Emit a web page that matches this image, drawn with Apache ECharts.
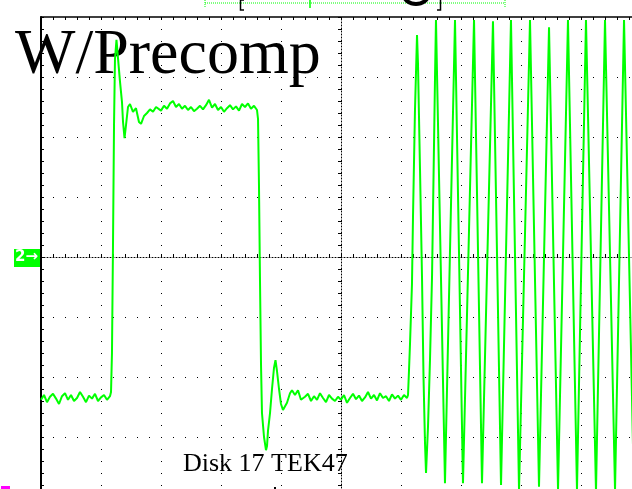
<!DOCTYPE html>
<html>
<head>
<meta charset="utf-8">
<script src="https://cdn.jsdelivr.net/npm/echarts@6/dist/echarts.min.js"></script>
<style>
html,body{margin:0;padding:0;background:#fff;}
#chart{width:632px;height:489px;}
</style>
</head>
<body>
<div id="chart"></div>
<script>
// Time in divisions (centre of screen = 0), voltage in divisions (centre line = 0)
const baseline1Time = [-5.00,-4.95,-4.90,-4.85,-4.80,-4.75,-4.70,-4.65,-4.60,-4.55,-4.50,-4.45,-4.40,-4.35,-4.30,-4.25,-4.20,-4.15,-4.10,-4.05,-4.00,-3.95,-3.90,-3.85];
const baseline1Volt = [-2.38,-2.30,-2.42,-2.33,-2.28,-2.36,-2.45,-2.32,-2.27,-2.38,-2.30,-2.40,-2.35,-2.25,-2.33,-2.42,-2.31,-2.36,-2.28,-2.40,-2.34,-2.30,-2.38,-2.32];

const riseTime = [-3.833,-3.817,-3.800,-3.783,-3.767,-3.742,-3.717,-3.683,-3.650,-3.633,-3.608,-3.583,-3.550,-3.517,-3.467,-3.417,-3.367,-3.333,-3.283,-3.233,-3.183,-3.133,-3.083];
const riseVolt = [-2.25,-1.60,0.20,2.20,3.30,3.62,3.32,2.92,2.58,2.25,1.98,2.20,2.50,2.55,2.42,2.48,2.25,2.22,2.35,2.40,2.46,2.42,2.50];

const plateauTime = [-3.05,-3.00,-2.95,-2.90,-2.85,-2.80,-2.75,-2.70,-2.65,-2.60,-2.55,-2.50,-2.45,-2.40,-2.35,-2.30,-2.25,-2.20,-2.15,-2.10,-2.05,-2.00,-1.95,-1.90,-1.85,-1.80,-1.75,-1.70,-1.65,-1.60,-1.55,-1.50,-1.45];
const plateauVolt = [2.48,2.44,2.52,2.47,2.56,2.60,2.50,2.55,2.47,2.52,2.45,2.50,2.43,2.47,2.52,2.46,2.53,2.62,2.49,2.55,2.45,2.50,2.42,2.48,2.53,2.46,2.51,2.44,2.55,2.50,2.56,2.47,2.52];

const fallTime = [-1.400,-1.383,-1.367,-1.350,-1.333,-1.317,-1.283,-1.250,-1.233,-1.217,-1.183,-1.150,-1.117,-1.092,-1.067,-1.033,-1.000,-0.967,-0.900,-0.850,-0.817,-0.767,-0.717,-0.667];
const fallVolt = [2.45,2.30,1.20,-0.40,-1.80,-2.60,-3.00,-3.22,-3.15,-2.90,-2.60,-2.20,-1.85,-1.72,-1.90,-2.20,-2.45,-2.55,-2.43,-2.27,-2.22,-2.30,-2.22,-2.38];

const baseline2Time = [-0.60,-0.55,-0.50,-0.45,-0.40,-0.35,-0.30,-0.25,-0.20,-0.15,-0.10,-0.05,0.00,0.05,0.10,0.15,0.20,0.25,0.30,0.35,0.40,0.45,0.50,0.55,0.60,0.65,0.70,0.75,0.80,0.85,0.90,0.95,1.00,1.05,1.10];
const baseline2Volt = [-2.33,-2.28,-2.40,-2.32,-2.38,-2.27,-2.35,-2.42,-2.30,-2.36,-2.40,-2.33,-2.38,-2.30,-2.43,-2.35,-2.28,-2.37,-2.31,-2.40,-2.34,-2.25,-2.36,-2.30,-2.39,-2.27,-2.35,-2.32,-2.40,-2.29,-2.36,-2.31,-2.38,-2.30,-2.35];

const burstTime = [1.117,1.133,1.150,1.183,1.200,1.233,1.267,1.283,1.317,1.350,1.375,1.400,1.417,1.450,1.483,1.517,1.542,1.567,1.583,1.733,1.900,2.033,2.217,2.350,2.533,2.667,2.833,2.967,3.150,3.300,3.467,3.617,3.783,3.933,4.083,4.250,4.400,4.567,4.717,4.883];
const burstVolt = [-2.30,-1.90,-1.45,-0.45,0.67,2.45,3.70,3.23,1.45,-0.33,-2.00,-3.10,-3.60,-2.83,-1.72,-0.33,1.33,3.00,3.95,-3.77,3.95,-3.77,3.95,-3.77,3.93,-3.80,3.95,-3.88,3.95,-3.83,3.83,-3.88,3.95,-3.88,3.95,-3.90,3.95,-3.88,3.95,-3.90];

const titleText = 'W/Precomp';
const footText = 'Disk 17 TEK47';
const channelLabel = '2\u2192';

const times = [].concat(baseline1Time, riseTime, plateauTime, fallTime, baseline2Time, burstTime);
const volts = [].concat(baseline1Volt, riseVolt, plateauVolt, fallVolt, baseline2Volt, burstVolt);
const traceData = times.map((t, i) => [t, volts[i]]);

const chart = echarts.init(document.getElementById('chart'), null, {renderer: 'canvas'});
const black = '#000';
const green = '#00ff00';

const hiddenLabel = {show: false};
const option = {
  backgroundColor: '#fff',
  animation: false,
  grid: {left: 41, top: 17, width: 600, height: 480, containLabel: false, outerBoundsMode: 'none'},
  xAxis: [
    { // top border of graticule
      type: 'value', min: -5, max: 5, interval: 1, position: 'top',
      axisLine: {show: true, onZero: false, lineStyle: {color: black, width: 1.5}},
      axisTick: {show: true, inside: true, length: 3, lineStyle: {color: black}},
      minorTick: {show: true, splitNumber: 5, length: 3, lineStyle: {color: black}},
      axisLabel: hiddenLabel,
      splitLine: {show: true, lineStyle: {color: black, width: 1, type: [1, 11]}},
      minorSplitLine: {show: false}
    },
    { // centre horizontal line, ticks up
      type: 'value', min: -5, max: 5, interval: 1, position: 'bottom',
      axisLine: {show: true, onZero: true, onZeroAxisIndex: 0, lineStyle: {color: black, width: 1, type: [1, 2]}},
      axisTick: {show: true, inside: true, length: 3, lineStyle: {color: black}},
      minorTick: {show: true, splitNumber: 5, length: 3, lineStyle: {color: black}},
      axisLabel: hiddenLabel, splitLine: {show: false}
    },
    { // centre horizontal line, ticks down
      type: 'value', min: -5, max: 5, interval: 1, position: 'bottom',
      axisLine: {show: false, onZero: true, onZeroAxisIndex: 0},
      axisTick: {show: true, inside: true, length: 3, lineStyle: {color: black}},
      minorTick: {show: true, splitNumber: 5, length: 3, lineStyle: {color: black}},
      axisLabel: hiddenLabel, splitLine: {show: false}
    }
  ],
  yAxis: [
    { // left border of graticule
      type: 'value', min: -4, max: 4, interval: 1, position: 'left',
      axisLine: {show: true, onZero: false, lineStyle: {color: black, width: 2}},
      axisTick: {show: true, inside: true, length: 3, lineStyle: {color: black}},
      minorTick: {show: true, splitNumber: 5, length: 3, lineStyle: {color: black}},
      axisLabel: hiddenLabel,
      splitLine: {show: true, lineStyle: {color: black, width: 1, type: [1, 11]}},
      minorSplitLine: {show: false}
    },
    { // centre vertical line, ticks left
      type: 'value', min: -4, max: 4, interval: 1, position: 'right',
      axisLine: {show: true, onZero: true, onZeroAxisIndex: 0, lineStyle: {color: black, width: 1, type: [1, 2]}},
      axisTick: {show: true, inside: true, length: 3, lineStyle: {color: black}},
      minorTick: {show: true, splitNumber: 5, length: 3, lineStyle: {color: black}},
      axisLabel: hiddenLabel, splitLine: {show: false}
    },
    { // centre vertical line, ticks right
      type: 'value', min: -4, max: 4, interval: 1, position: 'left',
      axisLine: {show: false, onZero: true, onZeroAxisIndex: 0},
      axisTick: {show: true, inside: false, length: 3, lineStyle: {color: black}},
      minorTick: {show: true, splitNumber: 5, length: 3, lineStyle: {color: black}},
      axisLabel: hiddenLabel, splitLine: {show: false}
    }
  ],
  series: [{
    type: 'line',
    xAxisIndex: 0, yAxisIndex: 0,
    data: traceData,
    showSymbol: false,
    symbol: 'none',
    clip: true,
    z: 5,
    lineStyle: {color: green, width: 2},
    silent: true
  }],
  graphic: [
    {type: 'text', x: 15, y: 24, z: 1, style: {text: titleText, font: "64px 'Liberation Serif', 'Times New Roman', serif", fill: black, verticalAlign: 'top'}},
    {type: 'text', x: 183, y: 451, z: 1, style: {text: footText, font: "26px 'Liberation Serif', 'Times New Roman', serif", fill: black, verticalAlign: 'top'}},
    {type: 'rect', z: 20, shape: {x: 14, y: 249, width: 26, height: 18}, style: {fill: green}},
    {type: 'text', x: 15, y: 250, z: 21, style: {text: channelLabel, font: "bold 15px 'DejaVu Sans', sans-serif", fill: '#fff', verticalAlign: 'top'}},
    // record view indicator at top
    {type: 'line', z: 1, shape: {x1: 205, y1: 3, x2: 505, y2: 3}, style: {stroke: green, lineWidth: 1, lineDash: [1, 1]}},
    {type: 'line', z: 1, shape: {x1: 205, y1: 0, x2: 205, y2: 8}, style: {stroke: green, lineWidth: 1, lineDash: [1, 1]}},
    {type: 'line', z: 1, shape: {x1: 505, y1: 0, x2: 505, y2: 8}, style: {stroke: green, lineWidth: 1, lineDash: [1, 1]}},
    {type: 'line', z: 1, shape: {x1: 310, y1: 0, x2: 310, y2: 8}, style: {stroke: green, lineWidth: 1.5}},
    {type: 'polyline', z: 2, shape: {points: [[244, 0], [240.5, 0], [240.5, 10], [244, 10]]}, style: {stroke: black, lineWidth: 1.5, fill: null}},
    {type: 'polyline', z: 2, shape: {points: [[437, 10], [440.5, 10], [440.5, 0]]}, style: {stroke: black, lineWidth: 1.5, fill: null}},
    {type: 'ellipse', z: 2, shape: {cx: 416, cy: -5, rx: 12, ry: 9}, style: {stroke: black, lineWidth: 4, fill: null}},
    {type: 'rect', z: 2, shape: {x: 1, y: 486, width: 9, height: 3}, style: {fill: '#ff00ff'}},
    {type: 'rect', z: 2, shape: {x: 274, y: 487, width: 2, height: 2}, style: {fill: black}}
  ]
};
chart.setOption(option);
</script>
</body>
</html>
